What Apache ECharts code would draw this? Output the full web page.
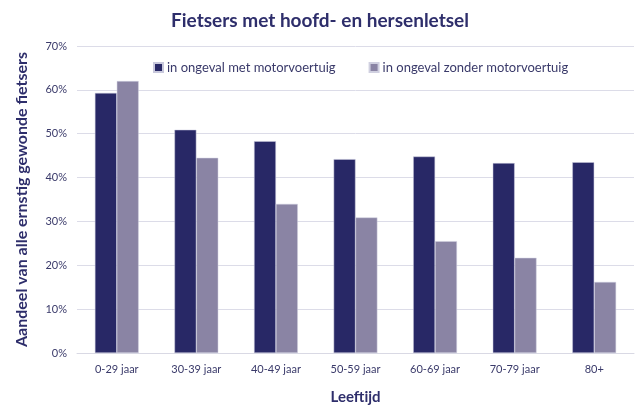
<!DOCTYPE html>
<html><head><meta charset="utf-8">
<script src="https://cdn.jsdelivr.net/npm/echarts@6/dist/echarts.min.js"></script>
<style>html,body{margin:0;padding:0;background:#fff}#c{width:640px;height:411px}</style>
</head><body><div id="c"></div>
<script>
const categories = ['0-29 jaar','30-39 jaar','40-49 jaar','50-59 jaar','60-69 jaar','70-79 jaar','80+'];
const metMotor = [59.3, 50.9, 48.3, 44.2, 44.8, 43.3, 43.5];
const zonderMotor = [62.0, 44.5, 34.0, 30.9, 25.5, 21.7, 16.2];
const seriesNames = ['in ongeval met motorvoertuig','in ongeval zonder motorvoertuig'];
const FONT = 'Lato, "Open Sans", sans-serif';
const chart = echarts.init(document.getElementById('c'), null, {renderer:'canvas'});
chart.setOption({
  animation:false,
  textStyle:{fontFamily:FONT},
  title:{text:'Fietsers met hoofd- en hersenletsel',left:'center',top:6,
    textStyle:{fontFamily:FONT,fontSize:19,fontWeight:'bold',color:'#2e2e6b'}},
  legend:{top:56,left:148,itemGap:33,itemWidth:9,itemHeight:9,icon:'rect',
    textStyle:{fontFamily:FONT,fontSize:13,color:'#3a3a6a',padding:[0,0,0,-1]},
    data:seriesNames},
  grid:{left:77,right:6,top:46,bottom:58},
  xAxis:{type:'category',data:categories,
    axisLine:{lineStyle:{color:'#d9d9e4'}},axisTick:{show:false},
    axisLabel:{fontFamily:FONT,fontSize:11,color:'#3a3a6a',margin:11},
    name:'Leeftijd',nameLocation:'middle',nameGap:37,
    nameTextStyle:{fontFamily:FONT,fontSize:15,fontWeight:'bold',color:'#2e2e6b'}},
  yAxis:{type:'value',min:0,max:70,interval:10,
    axisLabel:{formatter:'{value}%',fontFamily:FONT,fontSize:11,color:'#3a3a6a',margin:10},
    splitLine:{lineStyle:{color:'#dcdce8'}},axisLine:{show:false},axisTick:{show:false},
    name:'Aandeel van alle ernstig gewonde fietsers',nameLocation:'middle',nameGap:47,
    nameTextStyle:{fontFamily:FONT,fontSize:16,fontWeight:'bold',color:'#2e2e6b'}},
  series:[
    {name:seriesNames[0],type:'bar',data:metMotor,barGap:'0%',barCategoryGap:'45%',
     itemStyle:{color:'#282866',borderColor:'#c8c8dc',borderWidth:0.5}},
    {name:seriesNames[1],type:'bar',data:zonderMotor,barGap:'0%',barCategoryGap:'45%',
     itemStyle:{color:'#8a84a4',borderColor:'#d0d0e0',borderWidth:0.5}}
  ]
});
</script></body></html>
